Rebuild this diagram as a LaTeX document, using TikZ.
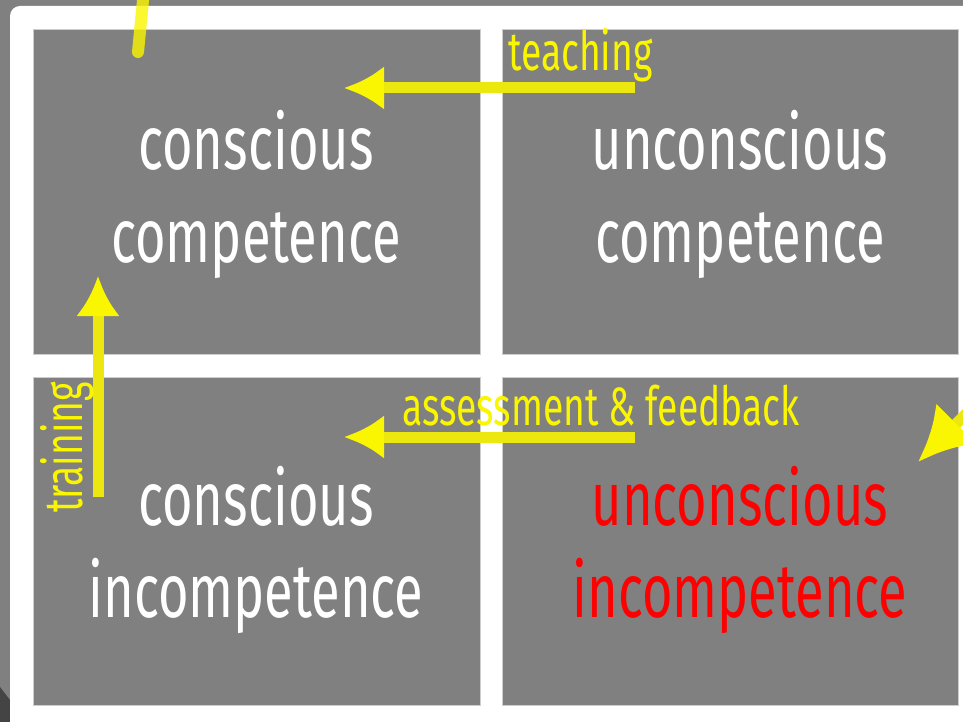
\documentclass[tikz,border=0pt]{standalone}
\usepackage{fontspec}
\setmainfont{Fira Sans}[FakeStretch=0.69]
\usetikzlibrary{arrows.meta}
\definecolor{bggray}{RGB}{128,128,128}
\definecolor{boxgray}{RGB}{128,128,128}
\definecolor{boxedge}{RGB}{205,205,205}
\definecolor{darkgray}{RGB}{68,68,68}
\definecolor{hiyellow}{RGB}{250,245,0}
\definecolor{alertred}{RGB}{255,0,0}
\tikzset{
  cell/.style={draw=boxedge, fill=boxgray, line width=0.8pt, inner sep=0pt},
  bigtxt/.style={text=white, font=\fontsize{76}{92}\selectfont, anchor=base, inner sep=0pt},
  smalltxt/.style={text=hiyellow, font=\fontsize{54}{66}\selectfont, anchor=base west, inner sep=0pt},
  flow/.style={draw=hiyellow!88!bggray, line width=11pt,
    -{Latex[length=40pt,width=44pt,color=hiyellow]}},
}
\begin{document}
\begin{tikzpicture}[x=1pt,y=-1pt]
  \useasboundingbox (0,0) rectangle (963,722);
  \clip (0,0) rectangle (963,722);
%%
  \fill[bggray] (0,0) rectangle (963,722);
  \fill[darkgray] (0,687) -- (10,700) -- (10,722) -- (0,722) -- cycle;
  \fill[white, rounded corners=10pt] (10,6) rectangle (1010,760);
  % Node: conscious competence
  \node[cell, minimum width=447pt, minimum height=325pt] (cc) at (256.5,191.5) {};
  \node[bigtxt] (cc1) at (256,170) {conscious};
  \node[bigtxt] (cc2) at (256,262) {competence};
  % Node: unconscious competence
  \node[cell, minimum width=456pt, minimum height=325pt] (uc) at (730,191.5) {};
  \node[bigtxt] (uc1) at (740,170) {unconscious};
  \node[bigtxt] (uc2) at (740,262) {competence};
  % Node: conscious incompetence
  \node[cell, minimum width=447pt, minimum height=328pt] (ci) at (256.5,541) {};
  \node[bigtxt] (ci1) at (256,525) {conscious};
  \node[bigtxt] (ci2) at (256,617) {incompetence};
  % Node: unconscious incompetence
  \node[cell, minimum width=456pt, minimum height=328pt] (ui) at (730,541) {};
  \node[bigtxt, text=alertred] (ui1) at (740,525) {unconscious};
  \node[bigtxt, text=alertred] (ui2) at (740,617) {incompetence};
%%
  \coordinate (hookA) at (144,-10);
  \coordinate (hookB) at (138,52);
  \coordinate (teachS) at (635,88);
  \coordinate (teachE) at (344,88);
  \coordinate (assessS) at (635,437);
  \coordinate (assessE) at (344,437);
  \coordinate (trainS) at (98,497);
  \coordinate (trainE) at (98,276);
  \coordinate (entryS) at (1030,350);
  \coordinate (entryE) at (918,462);
  % Edge: outside -> conscious competence
  \draw[hiyellow, draw opacity=0.8, line width=12pt, line cap=round] (hookA) -- (hookB);
  % Edge: unconscious competence -> conscious competence
  \draw[flow] (teachS) -- (teachE);
  \node[smalltxt] (teach) at (508,71) {teaching};
  % Edge: unconscious incompetence -> conscious incompetence
  \draw[flow] (assessS) -- (assessE);
  \node[smalltxt] (assess) at (402,425) {assessment \& feedback};
  % Edge: conscious incompetence -> conscious competence
  \draw[flow] (trainS) -- (trainE);
  \node[smalltxt, rotate=90] (train) at (82,513) {training};
  % Edge: outside -> unconscious incompetence
  \draw[flow, -{Latex[length=54pt,width=58pt,color=hiyellow]}] (entryS) -- (entryE);
%
\end{tikzpicture}
\end{document}
